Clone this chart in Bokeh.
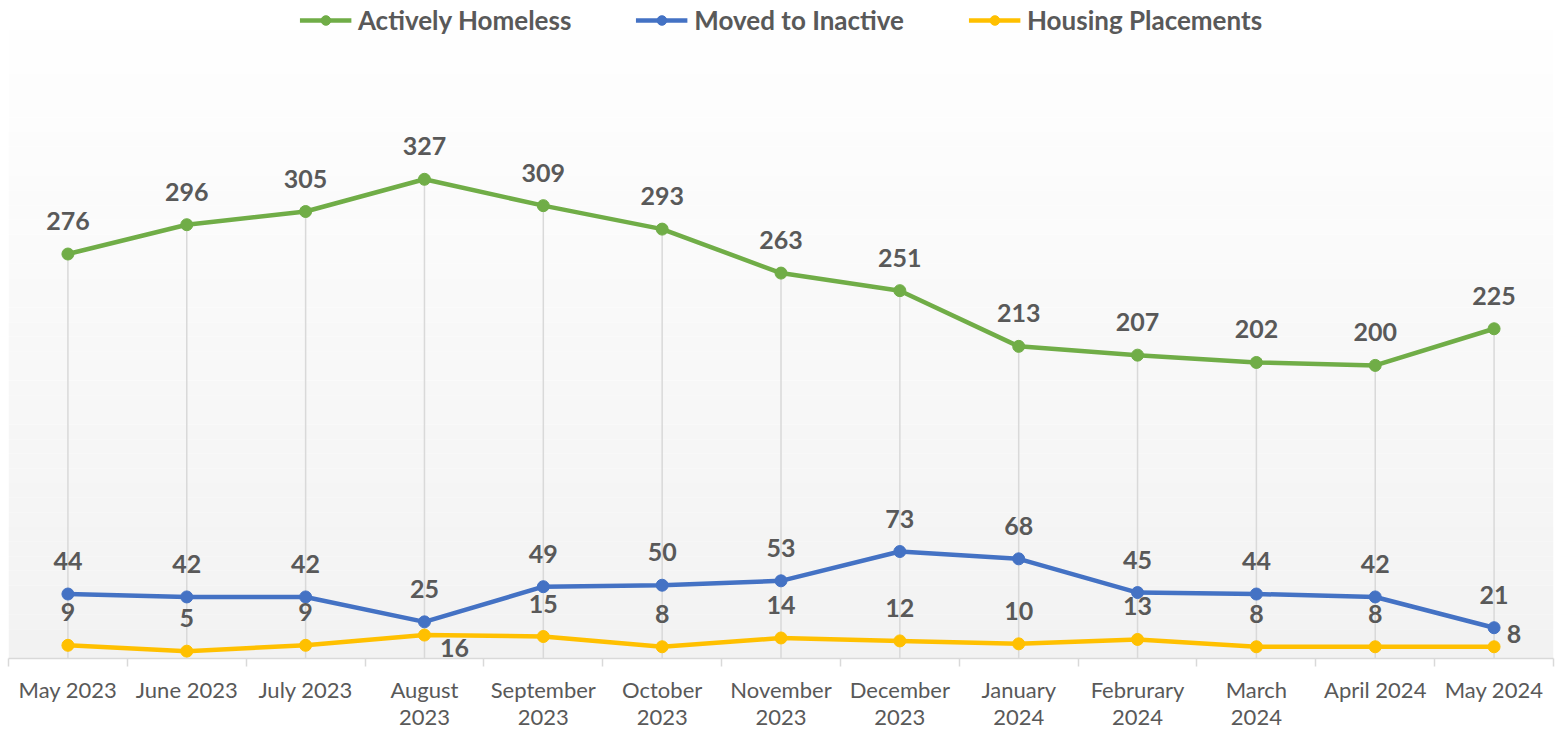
from bokeh.plotting import figure
from bokeh.models import FixedTicker, Legend, LegendItem, BoxAnnotation, Range1d, Label
from bokeh.embed import file_html
from bokeh.resources import INLINE

months = ["May 2023", "June 2023", "July 2023", "August\n2023", "September\n2023",
          "October\n2023", "November\n2023", "December\n2023", "January\n2024",
          "Februrary\n2024", "March\n2024", "April 2024", "May 2024"]
actively_homeless = [276, 296, 305, 327, 309, 293, 263, 251, 213, 207, 202, 200, 225]
moved_to_inactive = [44, 42, 42, 25, 49, 50, 53, 73, 68, 45, 44, 42, 21]
housing_placements = [9, 5, 9, 16, 15, 8, 14, 12, 10, 13, 8, 8, 8]

GREEN = "#70ad47"
BLUE = "#4472c4"
YELLOW = "#ffc000"
TEXT = "#595959"

x = list(range(len(months)))
YMAX = 449

p = figure(width=1557, height=732, output_backend="svg", toolbar_location=None,
           x_range=Range1d(-0.5, len(months) - 0.5), y_range=Range1d(0, YMAX),
           min_border_left=8, min_border_right=4, min_border_top=0, min_border_bottom=67)
p.outline_line_color = None
p.xgrid.visible = False
p.ygrid.visible = False
p.yaxis.visible = False
p.background_fill_color = "white"
p.border_fill_color = "white"

# gradient background (white at top -> light gray at bottom)
nb = 45
for i in range(nb):
    b = YMAX * i / nb
    t = YMAX * (i + 1) / nb
    frac = 1 - (b + t) / 2 / YMAX
    c = int(round(255 - 13 * frac))
    p.add_layout(BoxAnnotation(bottom=b, top=t, fill_color=f"#{c:02x}{c:02x}{c:02x}",
                               fill_alpha=1, line_color=None, level="underlay"))

ax = p.xaxis[0]
ax.ticker = FixedTicker(ticks=x, minor_ticks=[i - 0.5 for i in range(len(months) + 1)])
ax.major_label_overrides = {i: m for i, m in enumerate(months)}
ax.major_tick_line_color = None
ax.major_tick_out = 0
ax.major_tick_in = 0
ax.minor_tick_line_color = "#d9d9d9"
ax.minor_tick_line_width = 1.5
ax.minor_tick_out = 8
ax.minor_tick_in = 0
ax.axis_line_color = "#d9d9d9"
ax.axis_line_width = 1.5
ax.major_label_text_font = "Lato"
ax.major_label_text_font_size = "22px"
ax.major_label_text_color = TEXT
ax.major_label_text_line_height = 1.0
ax.major_label_standoff = 9

# drop lines
zeros = [0] * len(x)
p.segment(x0=x, y0=zeros, x1=x, y1=actively_homeless, line_color="#d9d9d9", line_width=1.5)

series = [
    ("Actively Homeless", actively_homeless, GREEN),
    ("Moved to Inactive", moved_to_inactive, BLUE),
    ("Housing Placements", housing_placements, YELLOW),
]
items = []
for name, vals, col in series:
    l = p.line(x, vals, line_color=col, line_width=4.5)
    c = p.scatter(x, vals, size=12, fill_color=col, line_color=col)
    items.append(LegendItem(label=name, renderers=[l, c]))

# data labels (offsets in screen px, positive = up)
label_special = {
    "Actively Homeless": {},
    "Moved to Inactive": {},
    "Housing Placements": {3: (30, -13), 12: (20, 13)},
}
for name, vals, col in series:
    for i, v in enumerate(vals):
        dx, dy = label_special[name].get(i, (0, 33))
        p.add_layout(Label(x=x[i], y=v, text=str(v), x_offset=dx, y_offset=dy,
                           text_font="Lato", text_font_style="bold", text_font_size="25px",
                           text_color=TEXT, text_align="center", text_baseline="middle",
                           level="overlay"))

legend = Legend(items=items, location="top_center", orientation="horizontal",
                label_text_font="Lato", label_text_font_style="bold",
                label_text_font_size="26px", label_text_color=TEXT,
                glyph_width=52, glyph_height=24, label_standoff=7, spacing=64,
                padding=0, margin=4, border_line_color=None, background_fill_alpha=0)
p.add_layout(legend)

open("out.html", "w").write(file_html(p, INLINE))
